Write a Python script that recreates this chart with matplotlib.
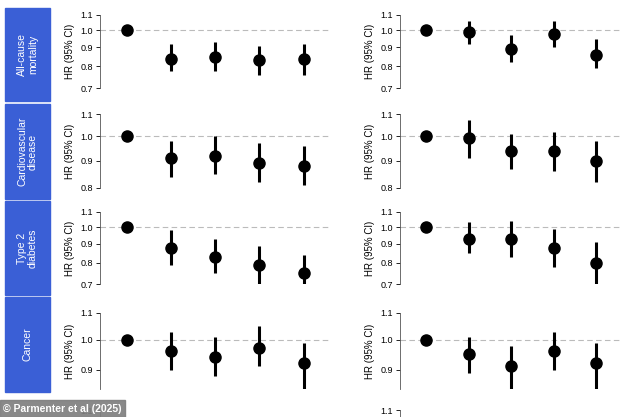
import matplotlib.pyplot as plt
import matplotlib.ticker as mticker
from matplotlib.patches import Rectangle

W, H = 634, 417

outcomes = ["All-cause\nmortality", "Cardiovascular\ndisease", "Type 2\ndiabetes", "Cancer"]

# left column: hazard ratio, lower CI, upper CI
left_hr = [[1.0, 0.84, 0.85, 0.83, 0.84],
           [1.0, 0.91, 0.92, 0.89, 0.88],
           [1.0, 0.88, 0.83, 0.79, 0.75],
           [1.0, 0.96, 0.94, 0.97, 0.92]]
left_lo = [[1.0, 0.78, 0.78, 0.76, 0.76],
           [1.0, 0.84, 0.85, 0.82, 0.81],
           [1.0, 0.79, 0.75, 0.70, 0.66],
           [1.0, 0.90, 0.88, 0.91, 0.84]]
left_hi = [[1.0, 0.92, 0.93, 0.91, 0.92],
           [1.0, 0.98, 1.00, 0.97, 0.96],
           [1.0, 0.98, 0.93, 0.89, 0.84],
           [1.0, 1.03, 1.01, 1.05, 0.99]]

right_hr = [[1.0, 0.99, 0.89, 0.98, 0.86],
            [1.0, 0.99, 0.94, 0.94, 0.90],
            [1.0, 0.93, 0.93, 0.88, 0.80],
            [1.0, 0.95, 0.91, 0.96, 0.92]]
right_lo = [[1.0, 0.92, 0.82, 0.90, 0.79],
            [1.0, 0.91, 0.87, 0.86, 0.82],
            [1.0, 0.85, 0.83, 0.78, 0.70],
            [1.0, 0.89, 0.84, 0.90, 0.84]]
right_hi = [[1.0, 1.06, 0.97, 1.06, 0.95],
            [1.0, 1.07, 1.01, 1.02, 0.98],
            [1.0, 1.03, 1.04, 0.99, 0.91],
            [1.0, 1.01, 0.98, 1.03, 0.99]]

yticks = [[0.7, 0.8, 0.9, 1.0, 1.1],
          [0.8, 0.9, 1.0, 1.1],
          [0.7, 0.8, 0.9, 1.0, 1.1],
          [0.9, 1.0, 1.1]]
ylims = [(0.7, 1.1), (0.8, 1.1), (0.7, 1.1), (0.84, 1.1)]
# pixel rows: y of top (1.1) and bottom of axis
row_px = [(15, 88), (114, 188), (212, 284), (313, 389)]
box_px = [(8, 101), (104, 199), (201, 295), (297, 392)]

plt.rcParams["font.family"] = ["Liberation Sans", "DejaVu Sans"]

fig = plt.figure(figsize=(W / 100, H / 100), dpi=100)
fig.patch.set_facecolor("white")


def px_axes(x0, x1, y0, y1):
    return fig.add_axes([x0 / W, 1 - y1 / H, (x1 - x0) / W, (y1 - y0) / H])


def style(ax, lims, ticks, label=True):
    ax.set_yscale("log")
    ax.set_ylim(*lims)
    ax.set_xlim(-0.61, 4.6)
    ax.yaxis.set_major_locator(mticker.FixedLocator(ticks))
    ax.yaxis.set_minor_locator(mticker.NullLocator())
    ax.yaxis.set_major_formatter(mticker.FormatStrFormatter("%.1f"))
    for s in ["top", "right", "bottom"]:
        ax.spines[s].set_visible(False)
    ax.spines["left"].set_linewidth(0.6)
    ax.spines["left"].set_color("#555555")
    ax.set_xticks([])
    ax.tick_params(axis="y", labelsize=6.5, length=3, width=0.6, pad=2)
    ax.patch.set_alpha(0)
    if label:
        ax.set_ylabel("HR (95% CI)", fontsize=7, labelpad=4)


for r in range(4):
    y0, y1 = row_px[r]
    for (x0, x1, hr, lo, hi) in [(100, 330, left_hr, left_lo, left_hi),
                                 (400, 622, right_hr, right_lo, right_hi)]:
        ax = px_axes(x0, x1, y0, y1)
        style(ax, ylims[r], yticks[r])
        ax.axhline(1.0, color="#bbbbbb", lw=0.8, ls=(0, (5, 3)), zorder=1)
        xs = range(5)
        ax.vlines(xs, lo[r], hi[r], color="black", lw=2.2, zorder=2)
        ax.plot(xs, hr[r], "o", color="black", ms=8, zorder=3, clip_on=False)
    b0, b1 = box_px[r]
    fig.patches.append(Rectangle((5 / W, 1 - b1 / H), 45 / W, (b1 - b0) / H,
                                 transform=fig.transFigure, color="#3a5fd6"))
    fig.text(27.5 / W, 1 - (b0 + b1) / 2 / H, outcomes[r], rotation=90,
             color="white", fontsize=7.5, ha="center", va="center",
             linespacing=1.1)

# next (cropped) row peeking in at the bottom
for x0, x1 in [(100, 330), (400, 622)]:
    ax = px_axes(x0, x1, 410, 480)
    style(ax, (0.7, 1.1), [1.1], label=False)

fig.patches.append(Rectangle((0, 0), 125 / W, 17 / H, transform=fig.transFigure,
                             color="#7f7f7f", alpha=0.92, zorder=10))
fig.text(3 / W, 8.5 / H, "© Parmenter et al (2025)", color="white",
         fontsize=7.5, fontweight="bold", va="center", zorder=11)

fig.savefig("out.png", dpi=100)
